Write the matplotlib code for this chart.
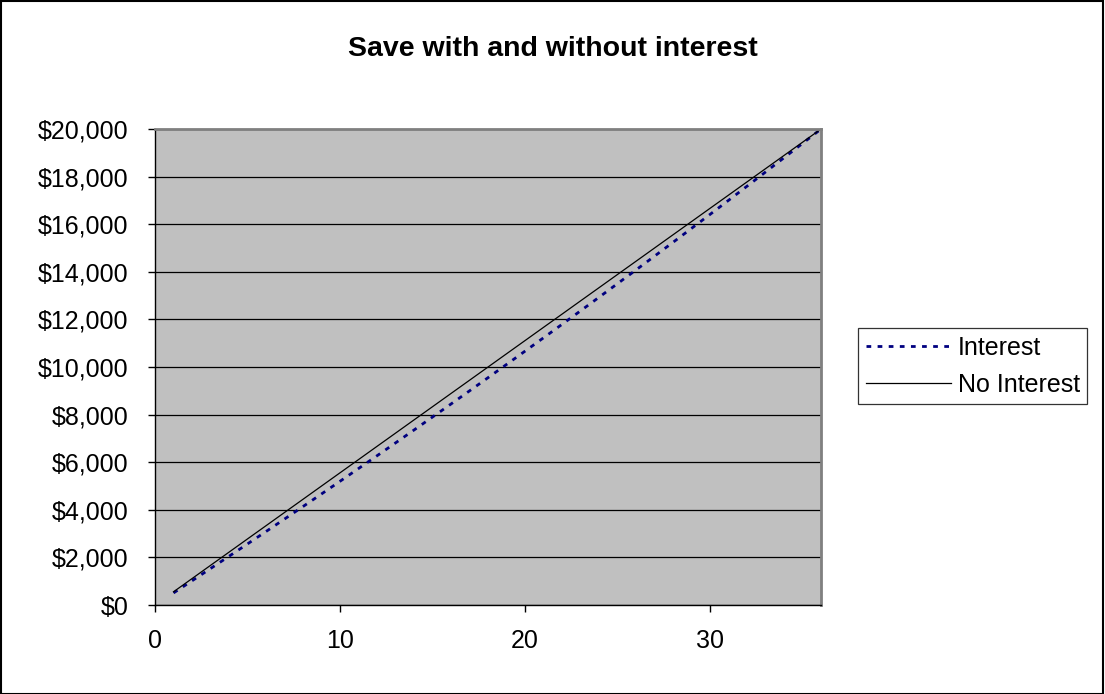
import matplotlib.pyplot as plt
from matplotlib.patches import Rectangle
from matplotlib.ticker import FuncFormatter

plt.rcParams['font.family'] = ['Liberation Sans', 'DejaVu Sans']

# months and balances
months = list(range(1, 37))
interest = [508, 1019, 1533, 2049, 2568, 3089, 3613, 4139, 4668, 5200,
            5735, 6272, 6812, 7354, 7900, 8447, 8998, 9552, 10108, 10667,
            11228, 11793, 12360, 12931, 13504, 14080, 14658, 15240, 15825, 16412,
            17003, 17597, 18193, 18793, 19395, 20000]
no_interest = [556, 1111, 1667, 2222, 2778, 3333, 3889, 4444, 5000, 5556,
               6111, 6667, 7222, 7778, 8333, 8889, 9444, 10000, 10556, 11111,
               11667, 12222, 12778, 13333, 13889, 14444, 15000, 15556, 16111, 16667,
               17222, 17778, 18333, 18889, 19444, 20000]

fig = plt.figure(figsize=(11.05, 6.94), dpi=100, facecolor='white')
ax = fig.add_axes([0.1403, 0.1282, 0.743 - 0.1403, 0.8141 - 0.1282])
ax.set_facecolor('#C0C0C0')

ax.plot(months, interest, color='#000080', lw=2.0, dashes=(1.7, 2.3), label='Interest')
ax.plot(months, no_interest, color='black', lw=0.9, label='No Interest')

ax.set_xlim(0, 36)
ax.set_ylim(0, 20000)
ax.set_xticks([0, 10, 20, 30])
ax.set_yticks(range(0, 20001, 2000))
ax.yaxis.set_major_formatter(FuncFormatter(lambda v, p: '${:,.0f}'.format(v)))
ax.tick_params(labelsize=18, length=5, width=1, direction='out', colors='black')
ax.tick_params(axis='y', pad=14)
ax.tick_params(axis='x', pad=12)
ax.grid(axis='y', color='black', lw=0.9)
ax.set_axisbelow(True)

for s in ['top', 'right']:
    ax.spines[s].set_color('#808080')
    ax.spines[s].set_linewidth(2)
for s in ['left', 'bottom']:
    ax.spines[s].set_color('black')
    ax.spines[s].set_linewidth(1)

fig.text(0.5, 0.930, 'Save with and without interest', ha='center', va='center',
         fontsize=20.5, fontweight='bold')

leg = fig.legend(loc='center left', bbox_to_anchor=(0.7765, 0.472), fontsize=18,
                 frameon=True, fancybox=False, edgecolor='black', handlelength=3.4,
                 handletextpad=0.28, borderpad=0.3, labelspacing=0.52, borderaxespad=0)
leg.get_frame().set_linewidth(0.9)

fig.patches.append(Rectangle((0.0005, 0.0007), 0.998, 0.998, transform=fig.transFigure,
                             fill=False, edgecolor='black', lw=1.5))

fig.savefig('out.png', dpi=100, facecolor='white')
